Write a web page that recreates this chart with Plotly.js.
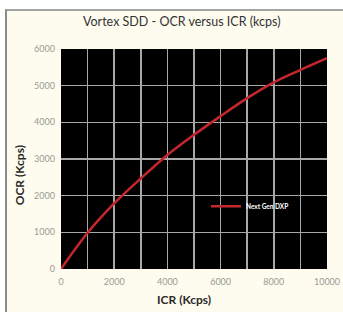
<!DOCTYPE html>
<html><head><meta charset="utf-8">
<script src="https://cdn.plot.ly/plotly-3.0.1.min.js"></script>
<style>
html,body{margin:0;padding:0;background:#ffffff;width:343px;height:312px;overflow:hidden;}
#chart{position:absolute;left:5px;top:9px;width:336px;height:301px;border-left:2px solid #8a8a86;border-top:2px solid #a4a4a0;}
</style></head>
<body><div id="chart"></div>
<script>
const icr = [0, 1000, 2000, 3000, 4000, 5000, 6000, 7000, 8000, 9000, 10000];
const ocr = [0, 990, 1790, 2470, 3110, 3660, 4170, 4660, 5090, 5430, 5750];
const seriesName = "Next Gen DXP";
const xTickVals = [0, 2000, 4000, 6000, 8000, 10000];
const xTickText = ['0', '2000', '4000', '6000', '8000', '10000'];
const yTickVals = [0, 1000, 2000, 3000, 4000, 5000, 6000];
const yTickText = ['0', '1000', '2000', '3000', '4000', '5000', '6000'];

const trace = {
  x: icr, y: ocr, type: 'scatter', mode: 'lines', name: seriesName,
  line: {color: '#c3272c', width: 2.6, shape: 'spline'}
};
const tickFont = {family: 'Lato, "Open Sans", sans-serif', size: 9, color: '#9a9a94'};
const layout = {
  width: 336, height: 301,
  margin: {l: 54, r: 16, t: 38, b: 43},
  paper_bgcolor: '#fdfcee', plot_bgcolor: '#000000',
  showlegend: true,
  legend: {x: 0.545, y: 0.285, xanchor: 'left', yanchor: 'middle', bgcolor: 'rgba(0,0,0,0)',
    font: {family: 'Lato, sans-serif', size: 6.5, color: '#ffffff', weight: 'bold'}, itemwidth: 30},
  xaxis: {range: [0, 10000], tickvals: xTickVals, ticktext: xTickText, showgrid: true, gridcolor: '#a8a8a8', gridwidth: 1.6,
    minor: {dtick: 1000, tick0: 0, showgrid: true, gridcolor: '#a8a8a8', gridwidth: 1.6},
    zeroline: false, showline: false, ticks: '', tickfont: tickFont, ticklabelstandoff: 6, fixedrange: true},
  yaxis: {range: [0, 6000], tickvals: yTickVals, ticktext: yTickText, showgrid: true, gridcolor: '#a8a8a8', gridwidth: 1.6,
    zeroline: false, showline: false, ticks: '', tickfont: tickFont, ticklabelstandoff: 5, fixedrange: true},
  annotations: [
    {text: 'Vortex SDD - OCR versus ICR (kcps)', xref: 'paper', yref: 'paper', x: 0.455, y: 1.125,
      xanchor: 'center', yanchor: 'middle', showarrow: false,
      font: {family: 'Lato, sans-serif', size: 12.5, color: '#333333'}},
    {text: '<b>ICR (Kcps)</b>', xref: 'paper', yref: 'paper', x: 0.462, y: -0.14,
      xanchor: 'center', yanchor: 'middle', showarrow: false,
      font: {family: 'Lato, sans-serif', size: 12, color: '#2a2a2a'}},
    {text: '<b>OCR (Kcps)</b>', xref: 'paper', yref: 'paper', x: -0.155, y: 0.425, textangle: -90,
      xanchor: 'center', yanchor: 'middle', showarrow: false,
      font: {family: 'Lato, sans-serif', size: 12, color: '#2a2a2a'}}
  ]
};
Plotly.newPlot('chart', [trace], layout, {displayModeBar: false, staticPlot: true});
</script></body></html>
